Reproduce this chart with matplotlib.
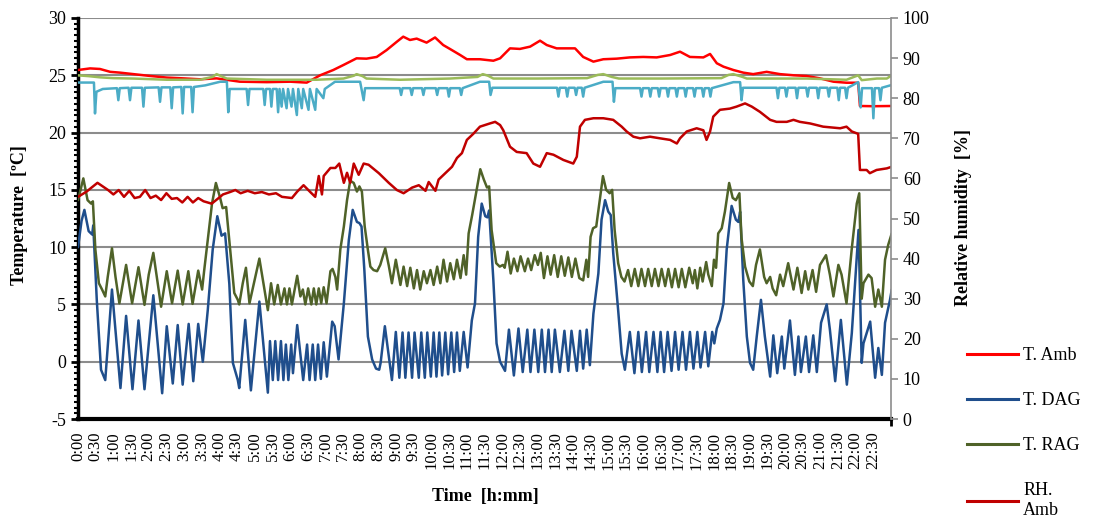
import numpy as np
import matplotlib
matplotlib.use("Agg")
import matplotlib.pyplot as plt
from matplotlib.lines import Line2D

plt.rcParams['font.family'] = ['Liberation Serif', 'DejaVu Serif']
plt.rcParams['axes.unicode_minus'] = False

# time in hours
amb_h = [0.00, 0.34, 0.62, 0.91, 1.19, 1.57, 2.04, 2.51, 2.98, 3.45, 3.92, 4.21, 4.58, 5.34, 6.00,
         6.47, 6.85, 7.22, 7.51, 7.88, 8.16, 8.45, 8.73, 9.02, 9.20, 9.39, 9.58, 9.86, 10.10, 10.33,
         10.52, 10.81, 11.00, 11.37, 11.75, 11.94, 12.22, 12.50, 12.79, 13.07, 13.26, 13.54, 13.82,
         14.06, 14.29, 14.58, 14.86, 15.24, 15.61, 15.99, 16.37, 16.75, 17.03, 17.31, 17.69, 17.88,
         18.07, 18.26, 18.54, 18.82, 19.10, 19.48, 19.86, 20.24, 20.61, 20.99, 21.37, 21.74, 22.07,
         22.12, 22.50, 23.02]
t_amb = [25.46, 25.6, 25.55, 25.3, 25.23, 25.1, 24.94, 24.8, 24.73, 24.65, 24.73, 24.6, 24.44, 24.4,
         24.44, 24.36, 25.0, 25.46, 25.9, 26.48, 26.45, 26.6, 27.2, 27.93, 28.37, 28.08, 28.2, 27.85,
         28.3, 27.64, 27.3, 26.77, 26.4, 26.4, 26.27, 26.48, 27.35, 27.3, 27.5, 28.02, 27.64, 27.35,
         27.35, 27.35, 26.6, 26.19, 26.4, 26.45, 26.56, 26.6, 26.56, 26.77, 27.06, 26.6, 26.56, 26.86,
         26.05, 25.75, 25.46, 25.23, 25.1, 25.3, 25.1, 25.0, 24.94, 24.73, 24.44, 24.35, 24.35,
         22.32, 22.3, 22.32]

dag_h = [0.00, 0.10, 0.18, 0.30, 0.40, 0.43, 0.53, 0.65, 0.77, 0.86, 0.96, 1.20, 1.36, 1.54, 1.71,
         1.88, 2.13, 2.38, 2.51, 2.68, 2.82, 2.96, 3.13, 3.26, 3.40, 3.53, 3.67, 3.81, 3.94, 4.06,
         4.16, 4.28, 4.38, 4.52, 4.56, 4.73, 4.89, 5.13, 5.37, 5.43, 5.51, 5.58, 5.66, 5.74, 5.81,
         5.88, 5.95, 6.03, 6.08, 6.20, 6.37, 6.48, 6.55, 6.64, 6.71, 6.79, 6.87, 6.95, 7.04, 7.19,
         7.26, 7.37, 7.52, 7.66, 7.77, 7.89, 7.96, 8.02, 8.10, 8.20, 8.32, 8.43, 8.52, 8.56, 8.68,
         8.88, 8.99, 9.09, 9.18, 9.26, 9.35, 9.45, 9.52, 9.64, 9.71, 9.81, 9.88, 9.98, 10.06, 10.14,
         10.22, 10.30, 10.39, 10.47, 10.56, 10.64, 10.72, 10.80, 10.91, 11.02, 11.14, 11.23, 11.32,
         11.42, 11.52, 11.58, 11.63, 11.75, 11.84, 11.94, 12.08, 12.19, 12.33, 12.46, 12.58, 12.71,
         12.80, 12.91, 13.02, 13.12, 13.21, 13.31, 13.40, 13.49, 13.63, 13.76, 13.87, 13.96, 14.11,
         14.20, 14.29, 14.39, 14.48, 14.58, 14.72, 14.81, 14.91, 15.00, 15.07, 15.14, 15.28, 15.38,
         15.47, 15.61, 15.74, 15.85, 15.95, 16.07, 16.16, 16.28, 16.39, 16.48, 16.58, 16.68, 16.79,
         16.89, 16.99, 17.10, 17.20, 17.31, 17.41, 17.52, 17.61, 17.74, 17.83, 17.94, 18.00, 18.07,
         18.16, 18.26, 18.35, 18.49, 18.61, 18.68, 18.73, 18.82, 18.92, 19.01, 19.10, 19.20, 19.32,
         19.43, 19.58, 19.67, 19.78, 19.91, 19.98, 20.14, 20.28, 20.38, 20.45, 20.59, 20.68, 20.80,
         20.90, 21.02, 21.18, 21.27, 21.42, 21.58, 21.75, 21.89, 22.08, 22.17, 22.22, 22.41, 22.55,
         22.64, 22.74, 22.83, 22.97, 23.02]
t_dag = [10.0, 12.3, 13.25, 11.4, 11.1, 11.9, 5.4, -0.7, -1.6, 2.2, 6.3, -2.3, 4.0, -2.4, 3.6,
         -2.4, 5.8, -2.75, 3.1, -1.9, 3.2, -2.0, 3.3, -1.7, 3.3, 0.0, 4.5, 9.8, 12.7, 11.0,
         11.2, 6.8, -0.1, -1.6, -2.3, 3.65, -2.5, 5.25, -2.7, 1.8, -1.6, 1.8, -1.6, 1.8, -1.6,
         1.5, -1.6, 1.5, -1.0, 3.2, -1.6, 1.5, -1.6, 1.5, -1.6, 1.5, -1.5, 1.7, -1.3, 3.5,
         3.1, 0.2, 5.1, 10.6, 13.25, 12.2, 12.1, 11.8, 8.0, 2.2, 0.2, -0.6, -0.7, -0.1, 3.1,
         -1.6, 2.6, -1.4, 2.55, -1.4, 2.55, -1.4, 2.55, -1.4, 2.55, -1.4, 2.55, -1.3, 2.55, -1.3,
         2.55, -1.2, 2.55, -1.1, 2.55, -0.9, 2.55, -0.8, 2.6, -0.5, 3.6, 5.1, 10.9,
         13.8, 12.7, 12.6, 13.2, 7.1, 1.6, 0.0, -0.8, 2.8, -1.2, 2.9, -0.9, 2.8,
         -0.9, 2.8, -0.9, 2.8, -0.9, 2.8, -0.9, 2.8, -0.9, 2.7, -0.8, 2.7, -0.8,
         2.7, -0.6, 2.8, -0.3, 4.2, 7.7, 12.4, 14.1, 13.1, 12.8, 9.5, 4.5, 0.7,
         -0.7, 2.6, -1.0, 2.6, -0.9, 2.6, -0.9, 2.6, -0.9, 2.6, -0.9, 2.6, -0.8,
         2.6, -0.7, 2.6, -0.7, 2.6, -0.6, 2.6, -0.5, 2.6, -0.4, 2.6, 1.6, 2.9,
         3.65, 5.1, 9.8, 13.6, 12.4, 12.2, 13.1, 7.1, 2.2, -0.1, -0.7, 2.2, 5.4,
         2.2, -1.3, 2.3, -1.0, 2.2, -0.6, 3.6, -1.15, 2.2, -0.9, 2.2, -0.9, 2.3,
         -0.9, 3.4, 5.0, 2.8, -1.7, 3.65, -2.0, 2.5, 11.5, -0.1, 1.6, 3.5, -1.4,
         1.2, -1.15, 3.4, 5.4, 6.3]

rag_h = [0.00, 0.15, 0.27, 0.37, 0.42, 0.49, 0.59, 0.68, 0.77, 0.84, 0.96, 1.06, 1.17, 1.36, 1.53,
         1.71, 1.88, 2.00, 2.13, 2.35, 2.51, 2.66, 2.82, 2.96, 3.12, 3.24, 3.40, 3.51, 3.57, 3.67,
         3.79, 3.90, 4.02, 4.09, 4.19, 4.26, 4.36, 4.42, 4.52, 4.56, 4.66, 4.75, 4.85, 5.13, 5.37,
         5.46, 5.55, 5.65, 5.74, 5.84, 5.91, 5.98, 6.05, 6.20, 6.29, 6.36, 6.43, 6.51, 6.60, 6.67,
         6.74, 6.81, 6.88, 6.95, 7.03, 7.14, 7.20, 7.28, 7.33, 7.42, 7.52, 7.61, 7.70, 7.80, 7.89,
         7.96, 8.03, 8.11, 8.20, 8.27, 8.36, 8.46, 8.55, 8.69, 8.79, 8.88, 8.99, 9.12, 9.21, 9.31,
         9.40, 9.50, 9.59, 9.68, 9.78, 9.87, 9.97, 10.06, 10.16, 10.25, 10.34, 10.44, 10.53, 10.63,
         10.72, 10.82, 10.91, 10.98, 11.05, 11.15, 11.38, 11.48, 11.57, 11.63, 11.70, 11.83, 11.93,
         12.02, 12.07, 12.15, 12.24, 12.33, 12.43, 12.52, 12.64, 12.73, 12.82, 12.92, 13.01, 13.09,
         13.18, 13.28, 13.37, 13.47, 13.57, 13.67, 13.77, 13.87, 13.97, 14.07, 14.18, 14.29, 14.38,
         14.43, 14.50, 14.57, 14.66, 14.76, 14.85, 14.94, 15.04, 15.11, 15.18, 15.28, 15.37, 15.46,
         15.56, 15.65, 15.75, 15.85, 15.94, 16.04, 16.13, 16.23, 16.32, 16.42, 16.51, 16.61, 16.70,
         16.80, 16.89, 16.99, 17.08, 17.18, 17.29, 17.39, 17.45, 17.52, 17.60, 17.67, 17.77, 17.83,
         17.93, 17.99, 18.05, 18.11, 18.21, 18.30, 18.42, 18.52, 18.61, 18.71, 18.77, 18.87, 18.99,
         19.09, 19.18, 19.29, 19.41, 19.48, 19.58, 19.65, 19.75, 19.86, 19.95, 20.09, 20.24, 20.35,
         20.47, 20.57, 20.66, 20.78, 20.88, 20.99, 21.16, 21.27, 21.37, 21.51, 21.60, 21.74, 21.89,
         22.03, 22.10, 22.17, 22.22, 22.36, 22.45, 22.55, 22.64, 22.74, 22.83, 22.92, 23.02]
t_rag = [14.1, 16.0, 14.1, 13.8, 14.0, 9.8, 6.85, 6.3, 5.7, 7.4, 9.9, 7.4, 5.1, 8.45, 5.1,
         8.25, 4.96, 7.6, 9.5, 4.8, 7.9, 5.1, 7.95, 5.0, 7.9, 5.05, 7.95, 6.3, 8.0, 10.6,
         13.8, 15.6, 14.3, 13.4, 13.5, 11.2, 8.0, 6.0, 5.4, 5.0, 6.85, 8.2, 5.1, 9.0, 4.5,
         6.85, 5.0, 6.7, 5.0, 6.4, 5.0, 6.4, 5.0, 7.5, 5.7, 6.3, 5.0, 6.4, 5.0, 6.4,
         5.0, 6.4, 5.1, 6.5, 5.1, 7.9, 8.1, 7.4, 6.3, 9.8, 11.8, 14.1, 15.8, 15.6, 14.85,
         15.3, 14.85, 11.8, 9.76, 8.3, 8.0, 7.9, 8.45, 9.9, 8.4, 6.85, 8.9, 6.7, 8.3, 6.6,
         8.2, 6.4, 8.0, 6.3, 7.9, 6.85, 8.0, 6.7, 8.3, 6.85, 8.9, 7.0, 8.6, 7.2,
         8.9, 7.3, 9.3, 7.6, 11.2, 12.8, 16.8, 15.9, 15.2, 15.3, 11.5, 8.6, 8.3,
         8.45, 8.2, 9.6, 7.7, 9.0, 7.9, 9.2, 7.9, 9.0, 8.0, 9.3, 8.45, 9.5,
         7.3, 9.2, 7.6, 9.3, 7.4, 9.2, 7.5, 9.1, 7.4, 9.0, 7.3, 7.1, 8.9,
         7.4, 10.9, 11.65, 11.8, 14.1, 16.2, 15.0, 14.7, 15.0, 11.5, 8.6, 7.4, 7.0,
         8.0, 6.6, 8.1, 6.6, 8.1, 6.6, 8.1, 6.6, 8.1, 6.6, 8.1, 6.6, 8.1,
         6.5, 8.1, 6.5, 8.1, 6.5, 8.2, 6.85, 8.0, 6.4, 8.2, 7.0, 8.7, 7.6,
         6.6, 8.9, 8.2, 11.2, 11.65, 13.1, 15.6, 14.3, 14.1, 14.7, 10.8, 8.3, 7.0,
         6.6, 8.45, 9.8, 7.4, 6.85, 7.4, 6.4, 5.8, 7.6, 6.6, 8.6, 6.3, 8.2,
         6.0, 7.9, 6.3, 8.0, 6.1, 8.45, 9.3, 7.6, 5.7, 8.45, 7.6, 5.1, 9.9,
         13.8, 14.7, 5.5, 6.85, 7.6, 7.3, 4.8, 6.3, 4.8, 8.9, 10.2, 11.2]

rh_amb_h = [0.00, 0.24, 0.55, 0.70, 0.85, 1.00, 1.15, 1.30, 1.45, 1.60, 1.75, 1.90, 2.05, 2.20,
            2.35, 2.50, 2.65, 2.80, 2.95, 3.10, 3.25, 3.40, 3.55, 3.78, 3.95, 4.10, 4.30, 4.45,
            4.60, 4.80, 5.00, 5.20, 5.40, 5.60, 5.77, 6.05, 6.20, 6.38, 6.57, 6.71, 6.81, 6.90,
            6.95, 7.14, 7.28, 7.39, 7.52, 7.61, 7.70, 7.80, 7.94, 8.08, 8.22, 8.51, 8.79, 9.02,
            9.21, 9.45, 9.64, 9.83, 9.92, 10.11, 10.20, 10.39, 10.58, 10.72, 10.86, 11.00, 11.18,
            11.37, 11.65, 11.80, 11.94, 12.03, 12.22, 12.41, 12.69, 12.88, 13.07, 13.26, 13.45,
            13.73, 14.01, 14.11, 14.20, 14.34, 14.58, 14.86, 15.14, 15.38, 15.52, 15.71, 15.90,
            16.18, 16.46, 16.75, 16.94, 17.03, 17.22, 17.50, 17.69, 17.78, 17.88, 17.97, 18.16,
            18.44, 18.63, 18.87, 19.06, 19.29, 19.58, 19.76, 20.05, 20.24, 20.42, 20.71, 21.08,
            21.56, 21.74, 21.89, 22.07, 22.12, 22.31, 22.40, 22.59, 22.88, 23.02]
rh_amb = [55.4, 56.7, 58.9, 58.0, 57.1, 56.0, 57.1, 55.4, 56.9, 55.1, 55.4, 57.1, 55.1, 55.7,
          54.6, 56.3, 54.9, 55.1, 54.0, 55.4, 54.0, 55.1, 54.3, 53.7, 54.9, 56.0, 56.6, 57.1,
          56.3, 56.9, 56.3, 56.6, 56.0, 56.3, 55.4, 55.1, 56.7, 58.3, 56.6, 55.4, 60.6, 56.0,
          60.6, 62.6, 62.6, 63.7, 58.9, 61.4, 58.9, 63.7, 60.9, 63.7, 63.4, 61.3, 58.9, 57.1,
          56.3, 57.7, 58.3, 56.9, 59.1, 56.9, 59.7, 61.3, 62.9, 65.1, 66.3, 69.6, 71.1,
          72.9, 73.7, 74.1, 73.3, 72.0, 67.9, 66.6, 66.3, 63.7, 62.9, 66.3, 65.9,
          64.6, 63.7, 65.4, 72.9, 74.6, 75.0, 75.0, 74.6, 72.9, 71.7, 70.4, 70.0,
          70.4, 70.0, 69.6, 68.7, 70.0, 71.7, 72.5, 72.0, 69.6, 71.7, 75.4, 77.1,
          77.4, 77.9, 78.7, 77.9, 76.6, 74.6, 74.1, 74.1, 74.6, 74.1, 73.7, 72.9,
          72.5, 72.9, 71.7, 71.1, 62.1, 62.1, 61.3, 62.1, 62.5, 62.9]

# the two unlabelled series (light green / light blue), relative humidity
rh_rag_h = [0.00, 0.30, 0.62, 1.00, 1.57, 2.51, 3.45, 3.80, 3.92, 4.10, 4.21, 5.34, 6.75, 7.51,
            7.80, 7.88, 8.05, 8.16, 9.11, 10.52, 11.30, 11.45, 11.60, 11.75, 13.00, 14.40, 14.70,
            14.86, 15.10, 15.30, 16.50, 18.20, 18.40, 18.54, 18.80, 18.92, 20.61, 21.74, 22.07,
            22.17, 22.60, 22.88, 23.02]
rh_rag = [85.7, 85.5, 85.2, 85.0, 84.9, 84.6, 84.6, 85.3, 86.0, 85.3, 84.9, 84.6, 84.6, 84.9,
          85.6, 86.0, 85.5, 84.9, 84.6, 84.9, 85.3, 86.0, 85.6, 84.9, 84.9, 85.0, 85.8,
          86.0, 85.3, 84.9, 84.9, 85.0, 85.8, 86.0, 85.3, 84.9, 84.9, 84.6, 85.7,
          84.5, 84.9, 84.9, 85.7]

rh_dag_h = [0.00, 0.45, 0.48, 0.52, 0.70, 1.10, 1.14, 1.18, 1.43, 1.47, 1.51, 1.81, 1.85, 1.89,
            2.28, 2.32, 2.36, 2.61, 2.65, 2.69, 2.92, 2.96, 3.00, 3.20, 3.24, 3.28, 3.60, 4.02,
            4.21, 4.25, 4.29, 4.77, 4.81, 4.85, 5.24, 5.28, 5.32, 5.43, 5.47, 5.51, 5.62, 5.66,
            5.70, 5.76, 5.80, 5.90, 5.94, 6.04, 6.08, 6.19, 6.23, 6.33, 6.37, 6.52, 6.56, 6.71,
            6.75, 6.94, 6.98, 7.27, 7.98, 8.08, 8.12, 9.10, 9.14, 9.18, 9.40, 9.44, 9.48, 9.73,
            9.77, 9.81, 10.12, 10.16, 10.20, 10.45, 10.49, 10.53, 10.80, 10.84, 10.88, 11.37,
            11.63, 11.67, 11.72, 13.55, 13.59, 13.63, 13.80, 13.84, 13.88, 14.05, 14.09, 14.13,
            14.25, 14.29, 14.33, 14.86, 15.12, 15.16, 15.20, 15.90, 15.94, 15.98, 16.15, 16.19,
            16.23, 16.40, 16.44, 16.48, 16.65, 16.69, 16.73, 16.90, 16.94, 16.98, 17.15, 17.19,
            17.23, 17.40, 17.44, 17.48, 17.65, 17.69, 17.73, 17.85, 17.89, 17.93, 18.54, 18.73,
            18.77, 18.81, 19.76, 19.80, 19.84, 20.00, 20.04, 20.08, 20.30, 20.34, 20.38, 20.60,
            20.64, 20.68, 20.90, 20.94, 20.98, 21.20, 21.24, 21.28, 21.48, 21.52, 21.56, 21.70,
            21.74, 21.78, 22.07, 22.14, 22.18, 22.46, 22.50, 22.54, 22.66, 22.70, 22.74, 23.02]
rh_dag = [83.9, 83.9, 76.2, 81.6, 82.3, 82.5, 79.5, 82.5, 82.6, 79.5, 82.6, 82.6, 77.9, 82.6,
          82.7, 79.1, 82.7, 82.7, 77.5, 82.7, 82.8, 76.2, 82.8, 82.8, 76.5, 82.8, 83.2, 84.1,
          84.1, 76.5, 82.3, 82.3, 78.3, 82.3, 82.3, 78.3, 82.3, 82.3, 77.9, 82.3, 82.3, 76.5,
          82.3, 77.9, 82.3, 77.5, 82.3, 77.9, 82.3, 75.8, 82.3, 77.5, 82.3, 77.1, 82.3, 77.1,
          82.3, 80.0, 82.3, 84.1, 84.1, 79.5, 82.5, 82.5, 80.8, 82.5, 82.5, 80.8, 82.5, 82.5,
          80.8, 82.5, 82.5, 80.8, 82.5, 82.5, 80.4, 82.5, 82.5, 80.8, 82.5, 84.1,
          84.1, 80.8, 82.6, 82.6, 80.4, 82.6, 82.6, 80.4, 82.6, 82.6, 80.8, 82.6,
          82.6, 80.4, 82.6, 84.1, 84.1, 79.1, 82.5, 82.5, 80.4, 82.5, 82.5, 80.4,
          82.5, 82.5, 80.4, 82.5, 82.5, 80.4, 82.5, 82.5, 80.4, 82.5, 82.5, 80.4,
          82.5, 82.5, 80.4, 82.5, 82.5, 80.4, 82.5, 82.5, 80.4, 82.5, 84.0, 84.0,
          79.5, 82.6, 82.6, 80.0, 82.6, 82.6, 80.4, 82.6, 82.6, 80.0, 82.6, 82.6,
          80.4, 82.6, 82.6, 80.0, 82.6, 82.6, 80.4, 82.6, 82.6, 79.5, 82.6, 82.6,
          80.0, 82.6, 84.0, 77.7, 82.5, 82.5, 75.0, 82.5, 82.5, 79.5, 82.6, 83.3]

tick_hours = np.arange(0, 23, 0.5)
tick_labels = ["%d:%02d" % (int(h), int(round((h % 1) * 60))) for h in tick_hours]

fig = plt.figure(figsize=(10.96, 5.26), dpi=100)
ax = fig.add_axes([0.0712, 0.2034, 0.7418, 0.7624])
ax2 = ax.twinx()

lw = 1.8
style = dict(lw=lw, solid_joinstyle="round", solid_capstyle="round")
ax.plot(amb_h, t_amb, color="#FF0000", zorder=3, **style)
ax.plot(dag_h, t_dag, color="#1F4E8C", zorder=3, **style)
ax.plot(rag_h, t_rag, color="#4F6228", zorder=3, **style)
ax2.plot(rh_dag_h, rh_dag, color="#4BACC6", **style)
ax2.plot(rh_rag_h, rh_rag, color="#9BBB59", **style)
ax2.plot(rh_amb_h, rh_amb, color="#C00000", **style)

ax.set_xlim(0, 23)
ax.set_ylim(-5, 30)
ax2.set_ylim(0, 100)

ax.set_yticks(np.arange(-5, 31, 5))
ax.set_yticks(np.arange(-5, 30.1, 0.5), minor=True)
ax.yaxis.grid(True, color="#8c8c8c", lw=1.5)
ax.set_axisbelow(True)
ax.tick_params(axis="y", which="major", length=5, width=2, labelsize=13, colors="black")
ax.tick_params(axis="y", which="minor", length=3, width=1.5)

ax.set_xticks(tick_hours)
ax.set_xticklabels(tick_labels, rotation=90, fontsize=12)
ax.set_xticks(np.arange(0, 23.1, 1), minor=True)
ax.tick_params(axis="x", which="major", length=0, pad=9)
ax.tick_params(axis="x", which="minor", length=5, width=2)

ax2.set_yticks(np.arange(0, 101, 10))
ax2.tick_params(axis="y", length=5, width=1.2, color="#8c8c8c", labelsize=13)

for s in ["top", "right"]:
    ax.spines[s].set_visible(False)
for s in ["top", "left", "bottom"]:
    ax2.spines[s].set_visible(False)
ax.spines["left"].set_linewidth(2.5)
ax.spines["bottom"].set_linewidth(3)
ax2.spines["right"].set_color("#8c8c8c")
ax2.spines["right"].set_linewidth(1.2)

fig.text(20 / 1096, 1 - 215 / 526, "Temperature  [ºC]", rotation=90, ha="center", va="center",
         fontsize=13, fontweight="bold")
fig.text(963 / 1096, 1 - 217 / 526, "Relative humidity  [%]", rotation=90, ha="center",
         va="center", fontsize=13, fontweight="bold")
fig.text(485 / 1096, 1 - 497 / 526, "Time  [h:mm]", ha="center", va="center",
         fontsize=13, fontweight="bold")

handles = [Line2D([], [], color=c, lw=2.2) for c in ["#FF0000", "#1F4E8C", "#4F6228", "#C00000"]]
names = ["T. Amb", "T. DAG", "T. RAG", "RH.\nAmb"]
fig.legend(handles, names, loc="upper left", bbox_to_anchor=(951 / 1096, 1 - 331 / 526),
           frameon=False, fontsize=13, handlelength=2.8, handletextpad=0.3, labelspacing=1.55)

fig.savefig("out.png", dpi=100)
